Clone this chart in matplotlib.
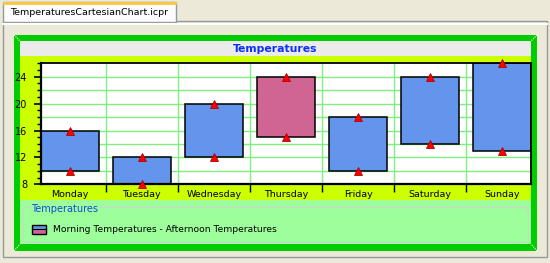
import matplotlib
matplotlib.use('Agg')
from matplotlib import pyplot as plt
from matplotlib.patches import Rectangle, FancyBboxPatch
import numpy as np

# Daten
days = ['Monday', 'Tuesday', 'Wednesday', 'Thursday', 'Friday', 'Saturday', 'Sunday']
morning = [10, 8, 12, 24, 10, 14, 13]
afternoon = [16, 12, 20, 15, 18, 24, 26]
y_ticks = [8, 12, 16, 20, 24]

title = 'Temperatures'
legend_title = 'Temperatures'
legend_label = 'Morning Temperatures - Afternoon Temperatures'
tab_label = 'TemperaturesCartesianChart.icpr'

# Farben
beige = '#ECE9D8'
frame_green = '#00CC00'
band_yellow = '#CCFF00'
legend_green = '#9CFF9C'
grid_green = '#7FEF7F'
up_color = '#6495ED'
down_color = '#D06594'
title_blue = '#0A30FF'

plt.rcParams['font.family'] = ['DejaVu Sans']

W, H = 550, 263
fig = plt.figure(figsize=(W / 100, H / 100), dpi=100, facecolor=beige)

# bakgrund i pixelkoordinater
bg = fig.add_axes([0, 0, 1, 1])
bg.set_xlim(0, W)
bg.set_ylim(H, 0)
bg.axis('off')

def rect(x0, y0, x1, y1, **kw):
    bg.add_patch(Rectangle((x0, y0), x1 - x0, y1 - y0, **kw))

# flik och ram runt panelen
rect(3, 21, 547, 257, facecolor=beige, edgecolor='#919B9C', lw=1)
bg.plot([3, 547], [23.5, 23.5], color='white', lw=1.5)
rect(3, 2, 176, 22, facecolor='#FCFCFE', edgecolor='#919B9C', lw=1)
bg.plot([4, 175], [2.5, 2.5], color='#FFC83C', lw=2)
bg.text(10, 12.5, tab_label, fontsize=6.8, va='center', ha='left', color='black')

# grön ram
rect(14, 35, 537, 251, facecolor=frame_green, edgecolor='none')
rect(20, 41, 531, 56, facecolor='#EBEBEB', edgecolor='none')
rect(20, 56, 531, 200, facecolor=band_yellow, edgecolor='none')
rect(20, 200, 531, 244, facecolor=legend_green, edgecolor='none')
for (xa, ya, xb, yb) in [(14, 35, 20, 41), (537, 35, 531, 41), (14, 251, 20, 244), (537, 251, 531, 244)]:
    bg.plot([xa, xb], [ya, yb], color='white', lw=0.8, ls=(0, (1, 1)))

bg.text(275, 48.5, title, fontsize=7.8, fontweight='bold', color=title_blue,
        ha='center', va='center')

# legend
bg.add_patch(FancyBboxPatch((22.5, 207.5), 506, 35, boxstyle='round,pad=0,rounding_size=4',
                            facecolor='none', edgecolor='#C8D8C8', lw=1))
bg.text(31, 209.5, legend_title, fontsize=7, color='#1448D8', ha='left', va='center',
        bbox=dict(facecolor=legend_green, edgecolor='none', pad=0.5))
rect(31.5, 224.5, 45.5, 229, facecolor=up_color, edgecolor='none')
rect(31.5, 229, 45.5, 233.5, facecolor=down_color, edgecolor='none')
rect(31.5, 224.5, 45.5, 233.5, facecolor='none', edgecolor='black', lw=1)
bg.plot([31.5, 45.5], [229, 229], color='black', lw=0.8)
bg.text(53, 229.5, legend_label, fontsize=6.6, color='black', ha='left', va='center')

# diagram
left, right, top, bottom = 41, 531, 63.3, 184.3
ax = fig.add_axes([left / W, 1 - bottom / H, (right - left) / W, (bottom - top) / H])
ax.set_facecolor('white')

x = np.arange(len(days))
lo = np.minimum(morning, afternoon)
hi = np.maximum(morning, afternoon)
colors = [up_color if a >= m else down_color for m, a in zip(morning, afternoon)]

for yv in range(10, 26, 2):
    ax.axhline(yv, color=grid_green, lw=1, zorder=0)
for xv in np.arange(0.5, len(days) - 1, 1):
    ax.axvline(xv, color=grid_green, lw=1, zorder=0)

ax.bar(x, hi - lo, bottom=lo, width=0.8, color=colors, edgecolor='black', lw=1.1, zorder=2)
for series in (morning, afternoon):
    ax.plot(x, series, ls='none', marker='^', markersize=5.5, color='#FF0000',
            markeredgecolor='#B00000', markeredgewidth=0.6, clip_on=False, zorder=4)

ax.set_xlim(-0.4, len(days) - 0.6)
ax.set_ylim(8, 26)
ax.set_yticks(y_ticks)
ax.set_yticks(np.arange(8, 27, 1), minor=True)
ax.set_xticks(x)
ax.set_xticklabels(days)
ax.set_xticks(np.arange(0.5, len(days) - 1, 1), minor=True)

ax.tick_params(axis='y', which='major', length=5, width=1.2, pad=5, labelsize=7, direction='out')
ax.tick_params(axis='y', which='minor', length=3, width=1, direction='out')
ax.tick_params(axis='x', which='major', length=0, pad=4, labelsize=6.8)
ax.tick_params(axis='x', which='minor', length=6, width=1, direction='out')

for s in ax.spines.values():
    s.set_linewidth(1.3)
    s.set_color('black')
ax.spines['left'].set_linewidth(1.6)
ax.spines['bottom'].set_linewidth(1.6)

fig.savefig('out.png', dpi=100, facecolor=beige)
